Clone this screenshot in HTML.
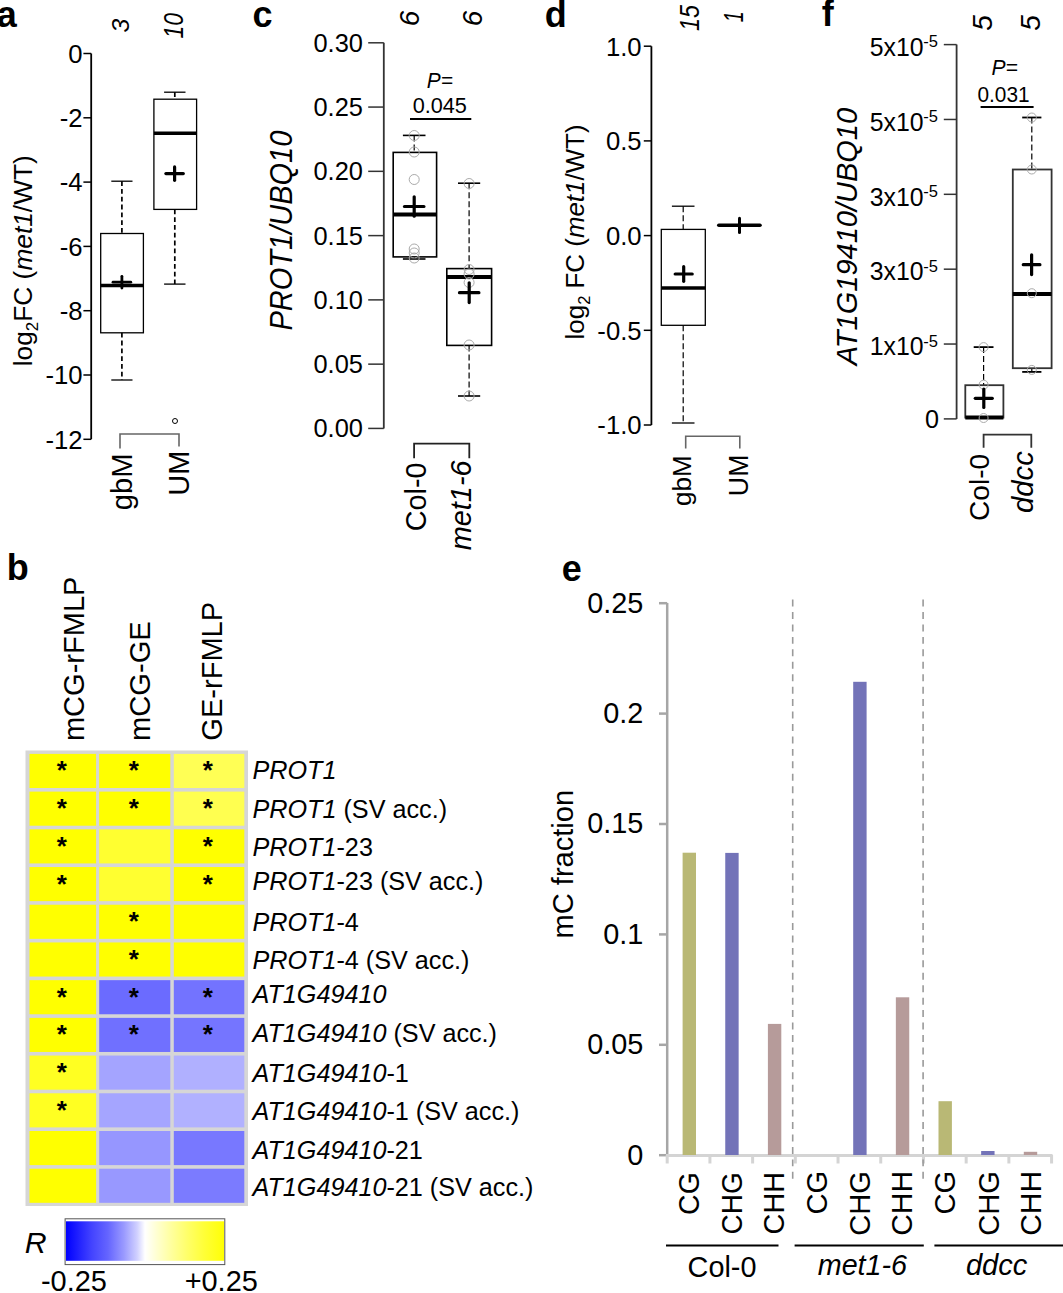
<!DOCTYPE html>
<html><head><meta charset="utf-8"><style>
html,body{margin:0;padding:0;background:#fff;overflow:hidden;}
svg{display:block;}
</style></head><body>
<svg width="1063" height="1293" viewBox="0 0 1063 1293" font-family='"Liberation Sans", sans-serif'>
<rect x="0" y="0" width="1063" height="1293" fill="#fff"/>
<text x="-3.30" y="26.60" font-size="36" text-anchor="start" fill="#000" font-weight="bold">a</text>
<text x="252.40" y="26.80" font-size="36" text-anchor="start" fill="#000" font-weight="bold">c</text>
<text x="544.80" y="26.50" font-size="36" text-anchor="start" fill="#000" font-weight="bold">d</text>
<text x="821.80" y="26.30" font-size="36" text-anchor="start" fill="#000" font-weight="bold">f</text>
<text x="6.70" y="579.90" font-size="36" text-anchor="start" fill="#000" font-weight="bold">b</text>
<text x="561.80" y="580.60" font-size="36" text-anchor="start" fill="#000" font-weight="bold">e</text>
<line x1="91.20" y1="53.50" x2="91.20" y2="439.30" stroke="#000" stroke-width="1.8" stroke-linecap="butt"/>
<line x1="83.40" y1="53.50" x2="91.20" y2="53.50" stroke="#000" stroke-width="1.5" stroke-linecap="butt"/>
<text transform="translate(82.55,62.70) scale(0.962,1)" font-size="26.7" text-anchor="end" fill="#000" >0</text>
<line x1="83.40" y1="117.80" x2="91.20" y2="117.80" stroke="#000" stroke-width="1.5" stroke-linecap="butt"/>
<text transform="translate(82.55,127.00) scale(0.962,1)" font-size="26.7" text-anchor="end" fill="#000" >-2</text>
<line x1="83.40" y1="182.10" x2="91.20" y2="182.10" stroke="#000" stroke-width="1.5" stroke-linecap="butt"/>
<text transform="translate(82.55,191.30) scale(0.962,1)" font-size="26.7" text-anchor="end" fill="#000" >-4</text>
<line x1="83.40" y1="246.40" x2="91.20" y2="246.40" stroke="#000" stroke-width="1.5" stroke-linecap="butt"/>
<text transform="translate(82.55,255.60) scale(0.962,1)" font-size="26.7" text-anchor="end" fill="#000" >-6</text>
<line x1="83.40" y1="310.70" x2="91.20" y2="310.70" stroke="#000" stroke-width="1.5" stroke-linecap="butt"/>
<text transform="translate(82.55,319.90) scale(0.962,1)" font-size="26.7" text-anchor="end" fill="#000" >-8</text>
<line x1="83.40" y1="375.00" x2="91.20" y2="375.00" stroke="#000" stroke-width="1.5" stroke-linecap="butt"/>
<text transform="translate(82.55,384.20) scale(0.962,1)" font-size="26.7" text-anchor="end" fill="#000" >-10</text>
<line x1="83.40" y1="439.30" x2="91.20" y2="439.30" stroke="#000" stroke-width="1.5" stroke-linecap="butt"/>
<text transform="translate(82.55,448.50) scale(0.962,1)" font-size="26.7" text-anchor="end" fill="#000" >-12</text>
<text transform="translate(128.91,32.42) rotate(-90)" font-size="24.81" fill="#000"><tspan font-style="italic">3</tspan></text>
<text transform="translate(183.10,38.48) rotate(-90) scale(0.8603,1)" font-size="26.80" fill="#000"><tspan font-style="italic">10</tspan></text>
<text transform="translate(31.8,366.3) rotate(-90)" font-size="26.3">log<tspan font-size="17" dy="6">2</tspan><tspan dy="-6">FC (</tspan><tspan font-style="italic">met1</tspan>/WT)</text>
<line x1="121.90" y1="181.20" x2="121.90" y2="233.50" stroke="#000" stroke-width="1.7" stroke-linecap="butt" stroke-dasharray="4.8,3"/>
<line x1="111.30" y1="181.20" x2="132.50" y2="181.20" stroke="#000" stroke-width="1.3" stroke-linecap="butt"/>
<line x1="121.90" y1="332.80" x2="121.90" y2="380.00" stroke="#000" stroke-width="1.7" stroke-linecap="butt" stroke-dasharray="4.8,3"/>
<line x1="111.30" y1="380.00" x2="132.50" y2="380.00" stroke="#000" stroke-width="1.3" stroke-linecap="butt"/>
<rect x="100.70" y="233.50" width="42.70" height="99.30" fill="none" stroke="#000" stroke-width="1.3"/>
<line x1="100.70" y1="285.40" x2="143.40" y2="285.40" stroke="#000" stroke-width="3.5" stroke-linecap="butt"/>
<line x1="113.02" y1="282.20" x2="130.78" y2="282.20" stroke="#000" stroke-width="2.8" stroke-linecap="round"/>
<line x1="121.90" y1="276.32" x2="121.90" y2="288.08" stroke="#000" stroke-width="2.8" stroke-linecap="round"/>
<line x1="174.80" y1="92.20" x2="174.80" y2="99.20" stroke="#000" stroke-width="1.7" stroke-linecap="butt" stroke-dasharray="4.8,3"/>
<line x1="164.10" y1="92.20" x2="185.50" y2="92.20" stroke="#000" stroke-width="1.3" stroke-linecap="butt"/>
<line x1="174.80" y1="209.40" x2="174.80" y2="284.10" stroke="#000" stroke-width="1.7" stroke-linecap="butt" stroke-dasharray="4.8,3"/>
<line x1="164.10" y1="284.10" x2="185.50" y2="284.10" stroke="#000" stroke-width="1.3" stroke-linecap="butt"/>
<rect x="153.90" y="99.20" width="42.70" height="110.20" fill="none" stroke="#000" stroke-width="1.3"/>
<line x1="153.90" y1="133.20" x2="196.60" y2="133.20" stroke="#000" stroke-width="3.5" stroke-linecap="butt"/>
<line x1="165.88" y1="173.60" x2="183.32" y2="173.60" stroke="#000" stroke-width="3.2" stroke-linecap="round"/>
<line x1="174.60" y1="166.88" x2="174.60" y2="180.32" stroke="#000" stroke-width="3.2" stroke-linecap="round"/>
<circle cx="175" cy="421" r="2.5" fill="none" stroke="#000" stroke-width="1"/>
<polyline points="120,448.5 120,434 179,434 179,446.6" fill="none" stroke="#666" stroke-width="1.6"/>
<text transform="translate(132.11,510.27) rotate(-90)" font-size="29.18" fill="#000"><tspan>gbM</tspan></text>
<text transform="translate(188.90,495.77) rotate(-90)" font-size="28.96" fill="#000"><tspan>UM</tspan></text>
<line x1="383.80" y1="42.80" x2="383.80" y2="428.40" stroke="#333" stroke-width="1.8" stroke-linecap="butt"/>
<line x1="368.20" y1="42.80" x2="383.80" y2="42.80" stroke="#333" stroke-width="1.5" stroke-linecap="butt"/>
<text transform="translate(362.90,51.80) scale(0.952,1)" font-size="26.7" text-anchor="end" fill="#000" >0.30</text>
<line x1="368.20" y1="107.07" x2="383.80" y2="107.07" stroke="#333" stroke-width="1.5" stroke-linecap="butt"/>
<text transform="translate(362.90,116.07) scale(0.952,1)" font-size="26.7" text-anchor="end" fill="#000" >0.25</text>
<line x1="368.20" y1="171.34" x2="383.80" y2="171.34" stroke="#333" stroke-width="1.5" stroke-linecap="butt"/>
<text transform="translate(362.90,180.34) scale(0.952,1)" font-size="26.7" text-anchor="end" fill="#000" >0.20</text>
<line x1="368.20" y1="235.61" x2="383.80" y2="235.61" stroke="#333" stroke-width="1.5" stroke-linecap="butt"/>
<text transform="translate(362.90,244.61) scale(0.952,1)" font-size="26.7" text-anchor="end" fill="#000" >0.15</text>
<line x1="368.20" y1="299.88" x2="383.80" y2="299.88" stroke="#333" stroke-width="1.5" stroke-linecap="butt"/>
<text transform="translate(362.90,308.88) scale(0.952,1)" font-size="26.7" text-anchor="end" fill="#000" >0.10</text>
<line x1="368.20" y1="364.15" x2="383.80" y2="364.15" stroke="#333" stroke-width="1.5" stroke-linecap="butt"/>
<text transform="translate(362.90,373.15) scale(0.952,1)" font-size="26.7" text-anchor="end" fill="#000" >0.05</text>
<line x1="368.20" y1="428.42" x2="383.80" y2="428.42" stroke="#333" stroke-width="1.5" stroke-linecap="butt"/>
<text transform="translate(362.90,437.42) scale(0.952,1)" font-size="26.7" text-anchor="end" fill="#000" >0.00</text>
<text transform="translate(419.39,26.33) rotate(-90)" font-size="27.80" fill="#000"><tspan font-style="italic">6</tspan></text>
<text transform="translate(482.34,26.33) rotate(-90)" font-size="27.80" fill="#000"><tspan font-style="italic">6</tspan></text>
<text transform="translate(426.77,87.52) scale(0.9142,1)" font-size="22.80" fill="#000"><tspan font-style="italic">P=</tspan></text>
<text transform="translate(412.63,113.47) scale(0.9515,1)" font-size="22.80" fill="#000"><tspan>0.045</tspan></text>
<line x1="410.00" y1="119.00" x2="471.30" y2="119.00" stroke="#000" stroke-width="1.8" stroke-linecap="butt"/>
<line x1="414.20" y1="135.40" x2="414.20" y2="152.40" stroke="#000" stroke-width="1.2" stroke-linecap="butt" stroke-dasharray="6,3"/>
<line x1="402.90" y1="135.40" x2="425.50" y2="135.40" stroke="#000" stroke-width="1.6" stroke-linecap="butt"/>
<line x1="414.20" y1="256.90" x2="414.20" y2="259.00" stroke="#000" stroke-width="1.2" stroke-linecap="butt" stroke-dasharray="6,3"/>
<line x1="402.90" y1="259.00" x2="425.50" y2="259.00" stroke="#000" stroke-width="1.6" stroke-linecap="butt"/>
<rect x="393.20" y="152.40" width="43.40" height="104.50" fill="none" stroke="#000" stroke-width="1.6"/>
<line x1="393.20" y1="214.40" x2="436.60" y2="214.40" stroke="#000" stroke-width="4" stroke-linecap="butt"/>
<circle cx="414.2" cy="135.5" r="5" fill="none" stroke="#aaa" stroke-width="1"/>
<circle cx="414.2" cy="152" r="5" fill="none" stroke="#aaa" stroke-width="1"/>
<circle cx="414.2" cy="179.5" r="5" fill="none" stroke="#aaa" stroke-width="1"/>
<circle cx="414.2" cy="249" r="5" fill="none" stroke="#aaa" stroke-width="1"/>
<circle cx="414.2" cy="253" r="5" fill="none" stroke="#aaa" stroke-width="1"/>
<circle cx="414.2" cy="258" r="5" fill="none" stroke="#aaa" stroke-width="1"/>
<line x1="404.48" y1="206.50" x2="423.92" y2="206.50" stroke="#000" stroke-width="3.2" stroke-linecap="round"/>
<line x1="414.20" y1="196.78" x2="414.20" y2="216.22" stroke="#000" stroke-width="3.2" stroke-linecap="round"/>
<line x1="469.10" y1="183.20" x2="469.10" y2="268.60" stroke="#000" stroke-width="1.2" stroke-linecap="butt" stroke-dasharray="6,3"/>
<line x1="458.00" y1="183.20" x2="480.20" y2="183.20" stroke="#000" stroke-width="1.6" stroke-linecap="butt"/>
<line x1="469.10" y1="345.40" x2="469.10" y2="396.00" stroke="#000" stroke-width="1.2" stroke-linecap="butt" stroke-dasharray="6,3"/>
<line x1="458.00" y1="396.00" x2="480.20" y2="396.00" stroke="#000" stroke-width="1.6" stroke-linecap="butt"/>
<rect x="446.80" y="268.60" width="44.80" height="76.80" fill="none" stroke="#000" stroke-width="1.6"/>
<line x1="446.80" y1="276.90" x2="491.60" y2="276.90" stroke="#000" stroke-width="4" stroke-linecap="butt"/>
<circle cx="469.1" cy="183.5" r="5" fill="none" stroke="#aaa" stroke-width="1"/>
<circle cx="469.1" cy="269.5" r="5" fill="none" stroke="#aaa" stroke-width="1"/>
<circle cx="469.1" cy="274" r="5" fill="none" stroke="#aaa" stroke-width="1"/>
<circle cx="469.1" cy="282.5" r="5" fill="none" stroke="#aaa" stroke-width="1"/>
<circle cx="469.1" cy="345" r="5" fill="none" stroke="#aaa" stroke-width="1"/>
<circle cx="469.1" cy="396" r="5" fill="none" stroke="#aaa" stroke-width="1"/>
<line x1="459.48" y1="292.70" x2="478.92" y2="292.70" stroke="#000" stroke-width="3.2" stroke-linecap="round"/>
<line x1="469.20" y1="282.78" x2="469.20" y2="302.62" stroke="#000" stroke-width="3.2" stroke-linecap="round"/>
<polyline points="414.1,458.2 414.1,443.6 469.3,443.6 469.3,458.2" fill="none" stroke="#222" stroke-width="1.8"/>
<text transform="translate(425.74,531.24) rotate(-90)" font-size="28.78" fill="#000"><tspan>Col-0</tspan></text>
<text transform="translate(470.75,550.23) rotate(-90)" font-size="28.85" fill="#000"><tspan font-style="italic">met1-6</tspan></text>
<text transform="translate(291.90,330.47) rotate(-90) scale(0.9482,1)" font-size="30.60" fill="#000"><tspan font-style="italic">PROT1/UBQ10</tspan></text>
<line x1="651.40" y1="46.20" x2="651.40" y2="425.00" stroke="#000" stroke-width="1.8" stroke-linecap="butt"/>
<line x1="643.80" y1="46.20" x2="651.40" y2="46.20" stroke="#000" stroke-width="1.5" stroke-linecap="butt"/>
<text transform="translate(641.60,55.50) scale(0.962,1)" font-size="26.7" text-anchor="end" fill="#000" >1.0</text>
<line x1="643.80" y1="140.90" x2="651.40" y2="140.90" stroke="#000" stroke-width="1.5" stroke-linecap="butt"/>
<text transform="translate(641.60,150.20) scale(0.962,1)" font-size="26.7" text-anchor="end" fill="#000" >0.5</text>
<line x1="643.80" y1="235.60" x2="651.40" y2="235.60" stroke="#000" stroke-width="1.5" stroke-linecap="butt"/>
<text transform="translate(641.60,244.90) scale(0.962,1)" font-size="26.7" text-anchor="end" fill="#000" >0.0</text>
<line x1="643.80" y1="330.30" x2="651.40" y2="330.30" stroke="#000" stroke-width="1.5" stroke-linecap="butt"/>
<text transform="translate(641.60,339.60) scale(0.962,1)" font-size="26.7" text-anchor="end" fill="#000" >-0.5</text>
<line x1="643.80" y1="425.00" x2="651.40" y2="425.00" stroke="#000" stroke-width="1.5" stroke-linecap="butt"/>
<text transform="translate(641.60,434.30) scale(0.962,1)" font-size="26.7" text-anchor="end" fill="#000" >-1.0</text>
<text transform="translate(699.31,31.08) rotate(-90) scale(0.8695,1)" font-size="26.80" fill="#000"><tspan font-style="italic">15</tspan></text>
<text transform="translate(742.75,22.29) rotate(-90) scale(0.7295,1)" font-size="26.80" fill="#000"><tspan font-style="italic">1</tspan></text>
<text transform="translate(583.5,339.4) rotate(-90)" font-size="25.9">log<tspan font-size="16.5" dy="6">2</tspan><tspan dy="-6"> FC (</tspan><tspan font-style="italic">met1</tspan>/WT)</text>
<line x1="683.20" y1="206.20" x2="683.20" y2="229.40" stroke="#000" stroke-width="1.2" stroke-linecap="butt" stroke-dasharray="6,3"/>
<line x1="671.90" y1="206.20" x2="694.50" y2="206.20" stroke="#000" stroke-width="1.3" stroke-linecap="butt"/>
<line x1="683.20" y1="325.30" x2="683.20" y2="423.00" stroke="#000" stroke-width="1.2" stroke-linecap="butt" stroke-dasharray="6,3"/>
<line x1="671.90" y1="423.00" x2="694.50" y2="423.00" stroke="#000" stroke-width="1.3" stroke-linecap="butt"/>
<rect x="661.30" y="229.40" width="44.00" height="95.90" fill="none" stroke="#000" stroke-width="1.3"/>
<line x1="661.30" y1="287.90" x2="705.30" y2="287.90" stroke="#000" stroke-width="3.5" stroke-linecap="butt"/>
<line x1="675.18" y1="274.00" x2="692.22" y2="274.00" stroke="#000" stroke-width="3.2" stroke-linecap="round"/>
<line x1="683.70" y1="266.68" x2="683.70" y2="281.32" stroke="#000" stroke-width="3.2" stroke-linecap="round"/>
<line x1="718.80" y1="225.30" x2="760.00" y2="225.30" stroke="#000" stroke-width="3.6" stroke-linecap="round"/>
<line x1="739.50" y1="218.30" x2="739.50" y2="232.40" stroke="#000" stroke-width="3" stroke-linecap="round"/>
<polyline points="685.7,448.4 685.7,436.3 739.8,436.3 739.8,448.4" fill="none" stroke="#666" stroke-width="1.6"/>
<text transform="translate(690.96,506.04) rotate(-90)" font-size="26.04" fill="#000"><tspan>gbM</tspan></text>
<text transform="translate(748.32,496.21) rotate(-90)" font-size="26.81" fill="#000"><tspan>UM</tspan></text>
<line x1="956.60" y1="44.60" x2="956.60" y2="418.90" stroke="#333" stroke-width="1.8" stroke-linecap="butt"/>
<line x1="943.80" y1="44.60" x2="956.60" y2="44.60" stroke="#333" stroke-width="1.5" stroke-linecap="butt"/>
<text transform="translate(923.50,55.90) scale(0.955,1)" font-size="26" text-anchor="end" fill="#000" >5x10</text>
<text x="923.30" y="47.20" font-size="16.5" text-anchor="start" fill="#000" >-5</text>
<line x1="943.80" y1="119.46" x2="956.60" y2="119.46" stroke="#333" stroke-width="1.5" stroke-linecap="butt"/>
<text transform="translate(923.50,130.76) scale(0.955,1)" font-size="26" text-anchor="end" fill="#000" >5x10</text>
<text x="923.30" y="122.06" font-size="16.5" text-anchor="start" fill="#000" >-5</text>
<line x1="943.80" y1="194.32" x2="956.60" y2="194.32" stroke="#333" stroke-width="1.5" stroke-linecap="butt"/>
<text transform="translate(923.50,205.62) scale(0.955,1)" font-size="26" text-anchor="end" fill="#000" >3x10</text>
<text x="923.30" y="196.92" font-size="16.5" text-anchor="start" fill="#000" >-5</text>
<line x1="943.80" y1="269.18" x2="956.60" y2="269.18" stroke="#333" stroke-width="1.5" stroke-linecap="butt"/>
<text transform="translate(923.50,280.48) scale(0.955,1)" font-size="26" text-anchor="end" fill="#000" >3x10</text>
<text x="923.30" y="271.78" font-size="16.5" text-anchor="start" fill="#000" >-5</text>
<line x1="943.80" y1="344.04" x2="956.60" y2="344.04" stroke="#333" stroke-width="1.5" stroke-linecap="butt"/>
<text transform="translate(923.50,355.34) scale(0.955,1)" font-size="26" text-anchor="end" fill="#000" >1x10</text>
<text x="923.30" y="346.64" font-size="16.5" text-anchor="start" fill="#000" >-5</text>
<line x1="943.80" y1="418.90" x2="956.60" y2="418.90" stroke="#333" stroke-width="1.5" stroke-linecap="butt"/>
<text transform="translate(939.00,427.90) scale(0.962,1)" font-size="26.2" text-anchor="end" fill="#000" >0</text>
<text transform="translate(992.40,30.81) rotate(-90)" font-size="28.22" fill="#000"><tspan font-style="italic">5</tspan></text>
<text transform="translate(1039.60,30.81) rotate(-90)" font-size="28.22" fill="#000"><tspan font-style="italic">5</tspan></text>
<text transform="translate(991.47,75.49) scale(0.9590,1)" font-size="22.00" fill="#000"><tspan font-style="italic">P=</tspan></text>
<text transform="translate(977.47,101.76) scale(0.9383,1)" font-size="22.20" fill="#000"><tspan>0.031</tspan></text>
<line x1="980.60" y1="107.00" x2="1033.60" y2="107.00" stroke="#000" stroke-width="1.8" stroke-linecap="butt"/>
<line x1="1031.80" y1="117.50" x2="1031.80" y2="169.50" stroke="#000" stroke-width="1.2" stroke-linecap="butt" stroke-dasharray="6,3"/>
<line x1="1022.20" y1="117.50" x2="1041.40" y2="117.50" stroke="#000" stroke-width="1.8" stroke-linecap="butt"/>
<line x1="1031.80" y1="368.20" x2="1031.80" y2="371.90" stroke="#000" stroke-width="1.2" stroke-linecap="butt" stroke-dasharray="6,3"/>
<line x1="1022.20" y1="371.90" x2="1041.40" y2="371.90" stroke="#000" stroke-width="1.8" stroke-linecap="butt"/>
<rect x="1012.80" y="169.50" width="38.80" height="198.70" fill="none" stroke="#333" stroke-width="1.8"/>
<line x1="1012.80" y1="293.90" x2="1051.60" y2="293.90" stroke="#000" stroke-width="4" stroke-linecap="butt"/>
<circle cx="1031.8" cy="117.5" r="4.5" fill="none" stroke="#aaa" stroke-width="1"/>
<circle cx="1031.8" cy="169.5" r="4.5" fill="none" stroke="#aaa" stroke-width="1"/>
<circle cx="1031.8" cy="293.2" r="4.5" fill="none" stroke="#aaa" stroke-width="1"/>
<circle cx="1031.8" cy="369.9" r="4.5" fill="none" stroke="#aaa" stroke-width="1"/>
<line x1="1023.28" y1="264.70" x2="1039.92" y2="264.70" stroke="#000" stroke-width="3.2" stroke-linecap="round"/>
<line x1="1031.60" y1="254.78" x2="1031.60" y2="274.62" stroke="#000" stroke-width="3.2" stroke-linecap="round"/>
<line x1="983.60" y1="347.10" x2="983.60" y2="385.20" stroke="#000" stroke-width="1.2" stroke-linecap="butt" stroke-dasharray="6,3"/>
<line x1="973.70" y1="347.10" x2="993.50" y2="347.10" stroke="#000" stroke-width="1.8" stroke-linecap="butt"/>
<rect x="965.30" y="385.20" width="38.10" height="32.40" fill="none" stroke="#333" stroke-width="1.8"/>
<line x1="965.30" y1="417.60" x2="1003.40" y2="417.60" stroke="#000" stroke-width="4" stroke-linecap="butt"/>
<circle cx="983.6" cy="347.1" r="4.5" fill="none" stroke="#aaa" stroke-width="1"/>
<circle cx="983.6" cy="384.7" r="4.5" fill="none" stroke="#aaa" stroke-width="1"/>
<circle cx="983.6" cy="418" r="4.5" fill="none" stroke="#aaa" stroke-width="1"/>
<line x1="975.28" y1="398.30" x2="992.32" y2="398.30" stroke="#000" stroke-width="3.2" stroke-linecap="round"/>
<line x1="983.80" y1="389.08" x2="983.80" y2="407.52" stroke="#000" stroke-width="3.2" stroke-linecap="round"/>
<polyline points="983.6,447.8 983.6,434.7 1031.3,434.7 1031.3,447.8" fill="none" stroke="#333" stroke-width="1.8"/>
<text transform="translate(989.29,521.00) rotate(-90)" font-size="28.09" fill="#000"><tspan>Col-0</tspan></text>
<text transform="translate(1033.12,513.03) rotate(-90)" font-size="29.30" fill="#000"><tspan font-style="italic">ddcc</tspan></text>
<text transform="translate(856.90,365.35) rotate(-90) scale(0.9643,1)" font-size="30.10" fill="#000"><tspan font-style="italic">AT1G19410/UBQ10</tspan></text>
<rect x="25.50" y="750.50" width="222.50" height="455.50" fill="#d6d6d6"/>
<rect x="29.50" y="753.90" width="66.60" height="34.10" fill="#ffff00"/>
<text x="61.80" y="779.40" font-size="26" text-anchor="middle" fill="#000" font-weight="bold">*</text>
<rect x="99.20" y="753.90" width="71.10" height="34.10" fill="#ffff00"/>
<text x="133.80" y="779.40" font-size="26" text-anchor="middle" fill="#000" font-weight="bold">*</text>
<rect x="173.80" y="753.90" width="70.50" height="34.10" fill="#ffff55"/>
<text x="207.80" y="779.40" font-size="26" text-anchor="middle" fill="#000" font-weight="bold">*</text>
<rect x="29.50" y="791.61" width="66.60" height="34.10" fill="#ffff00"/>
<text x="61.80" y="817.11" font-size="26" text-anchor="middle" fill="#000" font-weight="bold">*</text>
<rect x="99.20" y="791.61" width="71.10" height="34.10" fill="#ffff00"/>
<text x="133.80" y="817.11" font-size="26" text-anchor="middle" fill="#000" font-weight="bold">*</text>
<rect x="173.80" y="791.61" width="70.50" height="34.10" fill="#ffff50"/>
<text x="207.80" y="817.11" font-size="26" text-anchor="middle" fill="#000" font-weight="bold">*</text>
<rect x="29.50" y="829.32" width="66.60" height="34.10" fill="#ffff00"/>
<text x="61.80" y="854.82" font-size="26" text-anchor="middle" fill="#000" font-weight="bold">*</text>
<rect x="99.20" y="829.32" width="71.10" height="34.10" fill="#ffff30"/>
<rect x="173.80" y="829.32" width="70.50" height="34.10" fill="#ffff00"/>
<text x="207.80" y="854.82" font-size="26" text-anchor="middle" fill="#000" font-weight="bold">*</text>
<rect x="29.50" y="867.03" width="66.60" height="34.10" fill="#ffff00"/>
<text x="61.80" y="892.53" font-size="26" text-anchor="middle" fill="#000" font-weight="bold">*</text>
<rect x="99.20" y="867.03" width="71.10" height="34.10" fill="#ffff30"/>
<rect x="173.80" y="867.03" width="70.50" height="34.10" fill="#ffff00"/>
<text x="207.80" y="892.53" font-size="26" text-anchor="middle" fill="#000" font-weight="bold">*</text>
<rect x="29.50" y="904.74" width="66.60" height="34.10" fill="#ffff00"/>
<rect x="99.20" y="904.74" width="71.10" height="34.10" fill="#ffff00"/>
<text x="133.80" y="930.24" font-size="26" text-anchor="middle" fill="#000" font-weight="bold">*</text>
<rect x="173.80" y="904.74" width="70.50" height="34.10" fill="#ffff00"/>
<rect x="29.50" y="942.45" width="66.60" height="34.10" fill="#ffff00"/>
<rect x="99.20" y="942.45" width="71.10" height="34.10" fill="#ffff00"/>
<text x="133.80" y="967.95" font-size="26" text-anchor="middle" fill="#000" font-weight="bold">*</text>
<rect x="173.80" y="942.45" width="70.50" height="34.10" fill="#ffff00"/>
<rect x="29.50" y="980.16" width="66.60" height="34.10" fill="#ffff00"/>
<text x="61.80" y="1005.66" font-size="26" text-anchor="middle" fill="#000" font-weight="bold">*</text>
<rect x="99.20" y="980.16" width="71.10" height="34.10" fill="#6b6bff"/>
<text x="133.80" y="1005.66" font-size="26" text-anchor="middle" fill="#000" font-weight="bold">*</text>
<rect x="173.80" y="980.16" width="70.50" height="34.10" fill="#7373ff"/>
<text x="207.80" y="1005.66" font-size="26" text-anchor="middle" fill="#000" font-weight="bold">*</text>
<rect x="29.50" y="1017.87" width="66.60" height="34.10" fill="#ffff00"/>
<text x="61.80" y="1043.37" font-size="26" text-anchor="middle" fill="#000" font-weight="bold">*</text>
<rect x="99.20" y="1017.87" width="71.10" height="34.10" fill="#7070ff"/>
<text x="133.80" y="1043.37" font-size="26" text-anchor="middle" fill="#000" font-weight="bold">*</text>
<rect x="173.80" y="1017.87" width="70.50" height="34.10" fill="#7575ff"/>
<text x="207.80" y="1043.37" font-size="26" text-anchor="middle" fill="#000" font-weight="bold">*</text>
<rect x="29.50" y="1055.58" width="66.60" height="34.10" fill="#ffff22"/>
<text x="61.80" y="1081.08" font-size="26" text-anchor="middle" fill="#000" font-weight="bold">*</text>
<rect x="99.20" y="1055.58" width="71.10" height="34.10" fill="#a4a4ff"/>
<rect x="173.80" y="1055.58" width="70.50" height="34.10" fill="#b0b0ff"/>
<rect x="29.50" y="1093.29" width="66.60" height="34.10" fill="#ffff22"/>
<text x="61.80" y="1118.79" font-size="26" text-anchor="middle" fill="#000" font-weight="bold">*</text>
<rect x="99.20" y="1093.29" width="71.10" height="34.10" fill="#a5a5ff"/>
<rect x="173.80" y="1093.29" width="70.50" height="34.10" fill="#b1b1ff"/>
<rect x="29.50" y="1131.00" width="66.60" height="34.10" fill="#ffff00"/>
<rect x="99.20" y="1131.00" width="71.10" height="34.10" fill="#9696ff"/>
<rect x="173.80" y="1131.00" width="70.50" height="34.10" fill="#7878ff"/>
<rect x="29.50" y="1168.71" width="66.60" height="34.10" fill="#ffff00"/>
<rect x="99.20" y="1168.71" width="71.10" height="34.10" fill="#9898ff"/>
<rect x="173.80" y="1168.71" width="70.50" height="34.10" fill="#7b7bff"/>
<text transform="translate(252.5,778.8) scale(0.962,1)" font-size="26.2"><tspan font-style="italic">PROT1</tspan></text>
<text transform="translate(252.5,818.3) scale(0.962,1)" font-size="26.2"><tspan font-style="italic">PROT1</tspan><tspan> (SV acc.)</tspan></text>
<text transform="translate(252.5,855.8) scale(0.962,1)" font-size="26.2"><tspan font-style="italic">PROT1</tspan><tspan>-23</tspan></text>
<text transform="translate(252.5,890.3) scale(0.962,1)" font-size="26.2"><tspan font-style="italic">PROT1</tspan><tspan>-23 (SV acc.)</tspan></text>
<text transform="translate(252.5,930.6) scale(0.962,1)" font-size="26.2"><tspan font-style="italic">PROT1</tspan><tspan>-4</tspan></text>
<text transform="translate(252.5,968.7) scale(0.962,1)" font-size="26.2"><tspan font-style="italic">PROT1</tspan><tspan>-4 (SV acc.)</tspan></text>
<text transform="translate(252.5,1003.3) scale(0.962,1)" font-size="26.2"><tspan font-style="italic">AT1G49410</tspan></text>
<text transform="translate(252.5,1042.0) scale(0.962,1)" font-size="26.2"><tspan font-style="italic">AT1G49410</tspan><tspan> (SV acc.)</tspan></text>
<text transform="translate(252.5,1081.5) scale(0.962,1)" font-size="26.2"><tspan font-style="italic">AT1G49410</tspan><tspan>-1</tspan></text>
<text transform="translate(252.5,1119.6) scale(0.962,1)" font-size="26.2"><tspan font-style="italic">AT1G49410</tspan><tspan>-1 (SV acc.)</tspan></text>
<text transform="translate(252.5,1158.5) scale(0.962,1)" font-size="26.2"><tspan font-style="italic">AT1G49410</tspan><tspan>-21</tspan></text>
<text transform="translate(252.5,1195.8) scale(0.962,1)" font-size="26.2"><tspan font-style="italic">AT1G49410</tspan><tspan>-21 (SV acc.)</tspan></text>
<text transform="translate(84.05,741.09) rotate(-90) scale(0.9682,1)" font-size="30.00" fill="#000"><tspan>mCG-rFMLP</tspan></text>
<text transform="translate(149.65,741.10) rotate(-90) scale(0.9721,1)" font-size="30.00" fill="#000"><tspan>mCG-GE</tspan></text>
<text transform="translate(221.65,740.65) rotate(-90) scale(0.9690,1)" font-size="30.00" fill="#000"><tspan>GE-rFMLP</tspan></text>
<defs><linearGradient id="cb" x1="0" x2="1" y1="0" y2="0"><stop offset="0" stop-color="#0000ff"/><stop offset="0.063" stop-color="#1a1aff"/><stop offset="0.165" stop-color="#4444ff"/><stop offset="0.266" stop-color="#6565ff"/><stop offset="0.367" stop-color="#9a9aff"/><stop offset="0.45" stop-color="#d0d0ff"/><stop offset="0.5" stop-color="#ffffff"/><stop offset="0.57" stop-color="#ffffd4"/><stop offset="0.67" stop-color="#ffff9c"/><stop offset="0.77" stop-color="#ffff68"/><stop offset="0.873" stop-color="#ffff38"/><stop offset="0.975" stop-color="#ffff10"/><stop offset="1" stop-color="#ffff00"/></linearGradient></defs>
<rect x="65.10" y="1218.80" width="159.70" height="45.80" fill="#fff" stroke="#555" stroke-width="1"/>
<rect x="66.00" y="1221.30" width="158.00" height="39.50" fill="url(#cb)"/>
<text transform="translate(24.69,1252.75)" font-size="30.30" fill="#000"><tspan font-style="italic">R</tspan></text>
<text transform="translate(40.90,1290.91)" font-size="28.97" fill="#000"><tspan>-0.25</tspan></text>
<text transform="translate(184.65,1290.71)" font-size="28.93" fill="#000"><tspan>+0.25</tspan></text>
<line x1="667.20" y1="603.00" x2="667.20" y2="1156.50" stroke="#a6a6a6" stroke-width="2.5" stroke-linecap="butt"/>
<line x1="659.00" y1="603.20" x2="667.20" y2="603.20" stroke="#a6a6a6" stroke-width="2.5" stroke-linecap="butt"/>
<text transform="translate(643.40,612.60) scale(0.962,1)" font-size="30" text-anchor="end" fill="#000" >0.25</text>
<line x1="659.00" y1="713.60" x2="667.20" y2="713.60" stroke="#a6a6a6" stroke-width="2.5" stroke-linecap="butt"/>
<text transform="translate(643.40,723.00) scale(0.962,1)" font-size="30" text-anchor="end" fill="#000" >0.2</text>
<line x1="659.00" y1="824.00" x2="667.20" y2="824.00" stroke="#a6a6a6" stroke-width="2.5" stroke-linecap="butt"/>
<text transform="translate(643.40,833.40) scale(0.962,1)" font-size="30" text-anchor="end" fill="#000" >0.15</text>
<line x1="659.00" y1="934.40" x2="667.20" y2="934.40" stroke="#a6a6a6" stroke-width="2.5" stroke-linecap="butt"/>
<text transform="translate(643.40,943.80) scale(0.962,1)" font-size="30" text-anchor="end" fill="#000" >0.1</text>
<line x1="659.00" y1="1044.80" x2="667.20" y2="1044.80" stroke="#a6a6a6" stroke-width="2.5" stroke-linecap="butt"/>
<text transform="translate(643.40,1054.20) scale(0.962,1)" font-size="30" text-anchor="end" fill="#000" >0.05</text>
<line x1="659.00" y1="1155.20" x2="667.20" y2="1155.20" stroke="#a6a6a6" stroke-width="2.5" stroke-linecap="butt"/>
<text transform="translate(643.40,1164.60) scale(0.962,1)" font-size="30" text-anchor="end" fill="#000" >0</text>
<line x1="666.00" y1="1155.60" x2="1052.50" y2="1155.60" stroke="#d4d4d4" stroke-width="3" stroke-linecap="butt"/>
<line x1="667.20" y1="1155.00" x2="667.20" y2="1163.50" stroke="#d4d4d4" stroke-width="3" stroke-linecap="butt"/>
<line x1="709.91" y1="1155.00" x2="709.91" y2="1163.50" stroke="#d4d4d4" stroke-width="3" stroke-linecap="butt"/>
<line x1="752.62" y1="1155.00" x2="752.62" y2="1163.50" stroke="#d4d4d4" stroke-width="3" stroke-linecap="butt"/>
<line x1="795.33" y1="1155.00" x2="795.33" y2="1163.50" stroke="#d4d4d4" stroke-width="3" stroke-linecap="butt"/>
<line x1="838.04" y1="1155.00" x2="838.04" y2="1163.50" stroke="#d4d4d4" stroke-width="3" stroke-linecap="butt"/>
<line x1="880.75" y1="1155.00" x2="880.75" y2="1163.50" stroke="#d4d4d4" stroke-width="3" stroke-linecap="butt"/>
<line x1="923.46" y1="1155.00" x2="923.46" y2="1163.50" stroke="#d4d4d4" stroke-width="3" stroke-linecap="butt"/>
<line x1="966.17" y1="1155.00" x2="966.17" y2="1163.50" stroke="#d4d4d4" stroke-width="3" stroke-linecap="butt"/>
<line x1="1008.88" y1="1155.00" x2="1008.88" y2="1163.50" stroke="#d4d4d4" stroke-width="3" stroke-linecap="butt"/>
<line x1="1051.59" y1="1155.00" x2="1051.59" y2="1163.50" stroke="#d4d4d4" stroke-width="3" stroke-linecap="butt"/>
<line x1="792.70" y1="599.60" x2="792.70" y2="1181.00" stroke="#9a9a9a" stroke-width="1.6" stroke-linecap="butt" stroke-dasharray="6.95,5.49"/>
<line x1="923.10" y1="599.60" x2="923.10" y2="1181.00" stroke="#9a9a9a" stroke-width="1.6" stroke-linecap="butt" stroke-dasharray="6.95,5.49"/>
<rect x="682.60" y="852.70" width="13.40" height="302.30" fill="#b9b875"/>
<rect x="725.25" y="852.90" width="13.40" height="302.10" fill="#7373b8"/>
<rect x="767.90" y="1023.90" width="13.40" height="131.10" fill="#b69b9a"/>
<rect x="853.20" y="681.80" width="13.40" height="473.20" fill="#7373b8"/>
<rect x="895.85" y="997.30" width="13.40" height="157.70" fill="#b69b9a"/>
<rect x="938.50" y="1101.20" width="13.40" height="53.80" fill="#b9b875"/>
<rect x="981.15" y="1151.00" width="13.40" height="4.00" fill="#7373b8"/>
<rect x="1023.80" y="1151.80" width="13.40" height="3.20" fill="#b69b9a"/>
<text transform="translate(699.35,1214.93) rotate(-90) scale(0.9503,1)" font-size="30.00" fill="#000"><tspan>CG</tspan></text>
<text transform="translate(741.75,1234.40) rotate(-90) scale(0.9317,1)" font-size="30.00" fill="#000"><tspan>CHG</tspan></text>
<text transform="translate(783.95,1234.44) rotate(-90) scale(0.9615,1)" font-size="30.00" fill="#000"><tspan>CHH</tspan></text>
<text transform="translate(827.00,1214.45) rotate(-90) scale(0.9697,1)" font-size="30.00" fill="#000"><tspan>CG</tspan></text>
<text transform="translate(869.55,1235.76) rotate(-90) scale(0.9730,1)" font-size="30.00" fill="#000"><tspan>CHG</tspan></text>
<text transform="translate(912.10,1235.81) rotate(-90)" font-size="30.00" fill="#000"><tspan>CHH</tspan></text>
<text transform="translate(955.40,1214.45) rotate(-90) scale(0.9697,1)" font-size="30.00" fill="#000"><tspan>CG</tspan></text>
<text transform="translate(998.65,1235.76) rotate(-90) scale(0.9730,1)" font-size="30.00" fill="#000"><tspan>CHG</tspan></text>
<text transform="translate(1040.65,1235.81) rotate(-90)" font-size="30.00" fill="#000"><tspan>CHH</tspan></text>
<text transform="translate(573.44,938.49) rotate(-90)" font-size="29.08" fill="#000"><tspan>mC fraction</tspan></text>
<line x1="666.00" y1="1245.40" x2="778.50" y2="1245.40" stroke="#000" stroke-width="2" stroke-linecap="butt"/>
<line x1="794.60" y1="1245.40" x2="923.80" y2="1245.40" stroke="#000" stroke-width="2" stroke-linecap="butt"/>
<line x1="934.40" y1="1245.40" x2="1063.00" y2="1245.40" stroke="#000" stroke-width="2" stroke-linecap="butt"/>
<text transform="translate(687.56,1277.01)" font-size="28.83" fill="#000"><tspan>Col-0</tspan></text>
<text transform="translate(817.77,1275.01)" font-size="28.69" fill="#000"><tspan font-style="italic">met1-6</tspan></text>
<text transform="translate(965.88,1275.01)" font-size="29.10" fill="#000"><tspan font-style="italic">ddcc</tspan></text>
</svg>
</body></html>
